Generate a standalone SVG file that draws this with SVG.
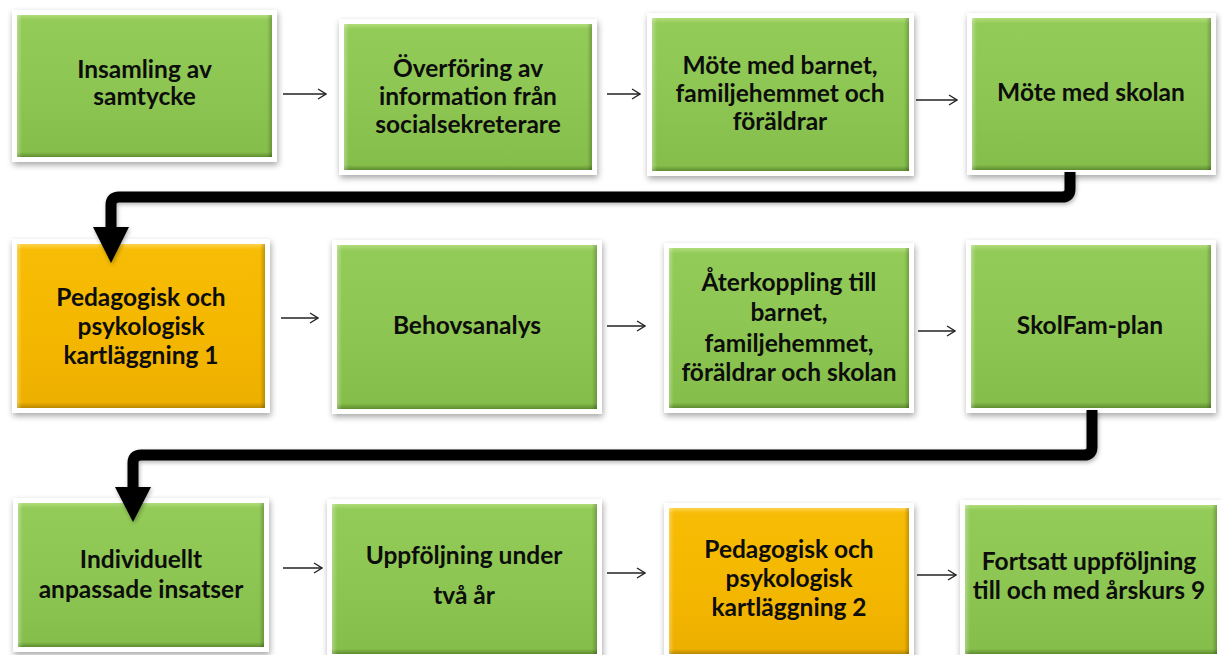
<svg xmlns="http://www.w3.org/2000/svg" width="1222" height="655" viewBox="0 0 1222 655">
<defs>
<style>
.frame{fill:#ffffff;filter:url(#sh);}
.g{fill:url(#gG);}
.o{fill:url(#gO);}
.ov{fill:url(#gH);}
.t{font-family:Lato,"Open Sans","DejaVu Sans",sans-serif;font-weight:bold;font-size:24.5px;fill:#0d0d0d;text-anchor:middle;}
.thin{stroke:#222;stroke-width:1.3;fill:none;}
.thick{stroke:#000;stroke-width:11;fill:none;stroke-linejoin:round;}
</style>
<filter id="sh" x="-10%" y="-10%" width="120%" height="125%">
<feDropShadow dx="1" dy="3" stdDeviation="3" flood-color="#000" flood-opacity="0.35"/>
</filter>
<filter id="sh2" x="-10%" y="-10%" width="120%" height="130%">
<feDropShadow dx="1" dy="2" stdDeviation="2" flood-color="#000" flood-opacity="0.3"/>
</filter>
<linearGradient id="gG" x1="0" y1="0" x2="0" y2="1">
<stop offset="0" stop-color="#b0dc7a"/>
<stop offset="0.035" stop-color="#93cb58"/>
<stop offset="0.5" stop-color="#8dc652"/>
<stop offset="0.965" stop-color="#86be4b"/>
<stop offset="1" stop-color="#5e8c30"/>
</linearGradient>
<linearGradient id="gO" x1="0" y1="0" x2="0" y2="1">
<stop offset="0" stop-color="#ffd34a"/>
<stop offset="0.035" stop-color="#f7bc05"/>
<stop offset="0.5" stop-color="#f5b800"/>
<stop offset="0.965" stop-color="#eeb000"/>
<stop offset="1" stop-color="#b98800"/>
</linearGradient>
<linearGradient id="gH" x1="0" y1="0" x2="1" y2="0">
<stop offset="0" stop-color="#ffffff" stop-opacity="0.3"/>
<stop offset="0.02" stop-color="#ffffff" stop-opacity="0"/>
<stop offset="0.98" stop-color="#000000" stop-opacity="0"/>
<stop offset="1" stop-color="#000000" stop-opacity="0.22"/>
</linearGradient>
<marker id="ah" markerWidth="10" markerHeight="12" refX="9" refY="6" orient="auto" markerUnits="userSpaceOnUse">
<path d="M1,1 L9,6 L1,11" fill="none" stroke="#222" stroke-width="1.3"/>
</marker>
</defs>
<rect width="1222" height="655" fill="#ffffff"/>

<g id="n1">
<rect class="frame" x="12" y="10" width="265" height="152"/>
<rect class="g" x="17" y="15" width="255" height="142"/>
<rect class="ov" x="17" y="15" width="255" height="142"/>
<text class="t" x="144.5" y="78">Insamling av</text>
<text class="t" x="144.5" y="105">samtycke</text>
</g>
<g id="n2">
<rect class="frame" x="339" y="19" width="258" height="156"/>
<rect class="g" x="344" y="24" width="248" height="146"/>
<rect class="ov" x="344" y="24" width="248" height="146"/>
<text class="t" x="468" y="77">Överföring av</text>
<text class="t" x="468" y="105">information från</text>
<text class="t" x="468" y="133">socialsekreterare</text>
</g>
<g id="n3">
<rect class="frame" x="647" y="13" width="267" height="163"/>
<rect class="g" x="652" y="18" width="257" height="153"/>
<rect class="ov" x="652" y="18" width="257" height="153"/>
<text class="t" x="780" y="74">Möte med barnet,</text>
<text class="t" x="780" y="102">familjehemmet och</text>
<text class="t" x="780" y="130">föräldrar</text>
</g>
<g id="n4">
<rect class="frame" x="967" y="13" width="249" height="162"/>
<rect class="g" x="972" y="18" width="239" height="152"/>
<rect class="ov" x="972" y="18" width="239" height="152"/>
<text class="t" x="1091" y="101">Möte med skolan</text>
</g>

<g id="n5">
<rect class="frame" x="12" y="239" width="258" height="174"/>
<rect class="o" x="17" y="244" width="248" height="164"/>
<rect class="ov" x="17" y="244" width="248" height="164"/>
<text class="t" x="141" y="306">Pedagogisk och</text>
<text class="t" x="141" y="335">psykologisk</text>
<text class="t" x="141" y="364">kartläggning 1</text>
</g>
<g id="n6">
<rect class="frame" x="332" y="240" width="270" height="174"/>
<rect class="g" x="337" y="245" width="260" height="164"/>
<rect class="ov" x="337" y="245" width="260" height="164"/>
<text class="t" x="467" y="334">Behovsanalys</text>
</g>
<g id="n7">
<rect class="frame" x="664" y="243" width="250" height="170"/>
<rect class="g" x="669" y="248" width="240" height="160"/>
<rect class="ov" x="669" y="248" width="240" height="160"/>
<text class="t" x="789" y="291">Återkoppling till</text>
<text class="t" x="789" y="321">barnet,</text>
<text class="t" x="789" y="352">familjehemmet,</text>
<text class="t" x="789" y="381">föräldrar och skolan</text>
</g>
<g id="n8">
<rect class="frame" x="966" y="240" width="250" height="173"/>
<rect class="g" x="971" y="245" width="240" height="163"/>
<rect class="ov" x="971" y="245" width="240" height="163"/>
<text class="t" x="1090" y="334">SkolFam-plan</text>
</g>

<g id="n9">
<rect class="frame" x="13" y="498" width="256" height="154"/>
<rect class="g" x="18" y="503" width="246" height="144"/>
<rect class="ov" x="18" y="503" width="246" height="144"/>
<text class="t" x="141" y="568">Individuellt</text>
<text class="t" x="141" y="598">anpassade insatser</text>
</g>
<g id="n10">
<rect class="frame" x="327" y="499" width="275" height="160"/>
<rect class="g" x="332" y="504" width="265" height="150"/>
<rect class="ov" x="332" y="504" width="265" height="150"/>
<text class="t" x="464" y="564">Uppföljning under</text>
<text class="t" x="464" y="604">två år</text>
</g>
<g id="n11">
<rect class="frame" x="664" y="503" width="250" height="156"/>
<rect class="o" x="669" y="508" width="240" height="146"/>
<rect class="ov" x="669" y="508" width="240" height="146"/>
<text class="t" x="789" y="558">Pedagogisk och</text>
<text class="t" x="789" y="587">psykologisk</text>
<text class="t" x="789" y="616">kartläggning 2</text>
</g>
<g id="n12">
<rect class="frame" x="960" y="500" width="262" height="159"/>
<rect class="g" x="965" y="505" width="252" height="149"/>
<rect class="ov" x="965" y="505" width="252" height="149"/>
<text class="t" x="1089" y="570">Fortsatt uppföljning</text>
<text class="t" x="1089" y="599">till och med årskurs 9</text>
</g>

<g id="connectors">
<line class="thin" x1="283" y1="94" x2="326" y2="94" marker-end="url(#ah)"/>
<line class="thin" x1="607" y1="94" x2="640" y2="94" marker-end="url(#ah)"/>
<line class="thin" x1="916" y1="100" x2="957" y2="100" marker-end="url(#ah)"/>
<line class="thin" x1="281" y1="318" x2="318" y2="318" marker-end="url(#ah)"/>
<line class="thin" x1="607" y1="326" x2="645" y2="326" marker-end="url(#ah)"/>
<line class="thin" x1="918" y1="331" x2="955" y2="331" marker-end="url(#ah)"/>
<line class="thin" x1="283" y1="568" x2="322" y2="568" marker-end="url(#ah)"/>
<line class="thin" x1="607" y1="573" x2="645" y2="573" marker-end="url(#ah)"/>
<line class="thin" x1="917" y1="575" x2="956" y2="575" marker-end="url(#ah)"/>
<g filter="url(#sh2)">
<path class="thick" d="M1070,172 V189 Q1070,197 1062,197 H119 Q111,197 111,205 V230"/>
<polygon points="93,227 129,227 111,263" fill="#000"/>
<path class="thick" d="M1092,410 V447 Q1092,455 1084,455 H141 Q133,455 133,463 V490"/>
<polygon points="115,487 151,487 133,522" fill="#000"/>
</g>
</g>
</svg>
